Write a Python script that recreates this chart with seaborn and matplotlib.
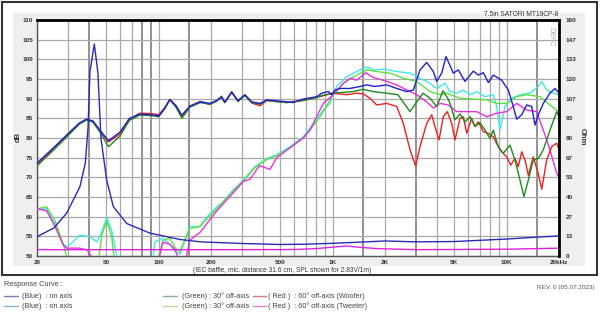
import matplotlib
matplotlib.use("Agg")
import matplotlib.pyplot as plt
import numpy as np
import pandas as pd
import seaborn as sns
from matplotlib.patches import Rectangle
from matplotlib.lines import Line2D
from matplotlib.ticker import NullLocator

sns.set_style("white")
plt.rcParams['font.family'] = ['Liberation Sans', 'DejaVu Sans']

# ---------------- data (freq Hz, value) ----------------
woofer_on_axis = [(20,73.6),(25,77.6),(30,81.0),(35,83.8),(38.6,84.8),(42,84.3),(46,82.0),(51.5,79.3),(60,81.5),(68,85.0),(78,86.1),(91.5,85.9),(100,85.6),(108,87.5),(116,89.8),(126,88.2),(136,85.8),(151,88.1),(173,89.2),(197,88.8),(215,89.5),(230,90.3),(240,89.1),(263,91.6),(286,89.5),(313,91.0),(343,89.2),(383,88.8),(418,89.7),(467,89.5),(545,89.2),(594,89.0),(676,89.9),(810,90.5),(866,91.4),(944,91.8),(990,91.0),(1032,92.2),(1102,92.6),(1259,92.6),(1436,93.1),(1570,93.5),(1753,93.1),(2047,93.5),(2336,92.6),(2667,91.8),(2911,92.2),(3178,97.3),(3474,99.2),(3794,96.9),(3964,94.4),(4236,96.5),(4486,100.7),(4935,96.5),(5275,97.3),(5766,94.4),(6436,97.0),(6879,96.0),(7350,96.6),(7855,94.1),(8382,96.0),(9370,94.7),(10230,92.2),(10920,88.0),(11430,84.8),(12210,85.9),(13040,88.4),(13930,88.0),(14560,83.3),(15200,85.9),(16250,88.8),(17750,91.4),(18970,92.6),(20000,91.4)]

woofer_30 = [(20,72.9),(25,77.0),(30,80.5),(35,83.5),(38.6,84.6),(42,84.0),(46,81.5),(51.5,77.8),(60,80.5),(68,84.5),(78,85.8),(91.5,85.7),(100,85.4),(108,87.3),(116,89.7),(126,87.8),(136,85.0),(151,87.8),(173,89.0),(197,88.6),(215,89.3),(230,90.6),(240,89.0),(263,91.7),(286,89.3),(313,90.8),(343,89.0),(383,88.6),(418,89.6),(467,89.3),(545,89.0),(594,89.2),(676,89.5),(810,90.3),(866,90.8),(1005,91.4),(1310,91.8),(1495,92.4),(1707,91.8),(2047,91.4),(2375,91.0),(2537,89.2),(2785,86.7),(3043,89.2),(3306,91.4),(3629,90.1),(3964,88.0),(4309,92.0),(4602,90.0),(4730,88.8),(5049,84.6),(5396,86.1),(5766,84.1),(6164,85.4),(6580,82.9),(7030,83.9),(7514,82.0),(8024,79.9),(8382,82.0),(8954,77.8),(9570,76.1),(10450,78.2),(11170,74.4),(11940,69.3),(12580,65.1),(13330,69.3),(14230,74.4),(15200,74.8),(16250,77.0),(17750,82.0),(19400,86.7),(20000,85.4)]

woofer_60 = [(20,73.3),(25,77.4),(30,80.8),(35,83.7),(38.6,84.7),(42,84.2),(46,81.8),(51.5,79.0),(60,81.0),(68,84.8),(78,86.3),(91.5,86.2),(100,85.9),(108,87.6),(116,89.8),(126,88.0),(136,85.5),(151,88.0),(173,89.3),(197,88.5),(215,89.5),(230,90.6),(240,89.0),(263,91.8),(286,89.3),(313,90.9),(343,88.9),(383,88.2),(418,89.5),(467,89.3),(545,89.0),(594,89.3),(676,89.6),(810,90.3),(1005,91.4),(1205,91.0),(1375,91.4),(1500,91.2),(1640,90.1),(1791,88.4),(2047,88.8),(2336,88.0),(2549,83.7),(2785,77.0),(3000,72.9),(3178,77.8),(3474,83.7),(3710,85.9),(3875,82.9),(4086,79.5),(4327,85.4),(4558,86.7),(4836,83.7),(5049,79.5),(5396,85.0),(5636,85.4),(5901,81.2),(6298,85.0),(6580,82.9),(6879,84.1),(7350,81.6),(7855,81.2),(8382,80.3),(8954,77.8),(9370,76.5),(10010,75.2),(10550,73.1),(11170,74.8),(11670,72.7),(12210,76.5),(12760,74.4),(13330,70.5),(14230,75.2),(15090,71.4),(15920,67.0),(16990,74.4),(18160,77.8),(19400,78.7),(20000,77.0)]

tweeter_on_axis = [(20,62.0),(22.7,62.0),(25.4,58.0),(28.3,53.0),(29.6,52.4),(32,53.5),(35.3,55.3),(40.3,54.9),(44.1,53.6),(47,56.0),(50.3,59.8),(53.7,56.6),(57.4,50.0),(60,45.0),(90,45.0),(95.3,53.6),(106,54.5),(116,53.0),(125,51.0),(132.7,50.5),(151.5,57.5),(173,57.5),(190,60.0),(216,62.5),(235,63.8),(268,66.8),(307,69.3),(358,72.7),(418,74.8),(477,75.7),(569,77.8),(678,80.3),(741,82.5),(884,87.1),(966,88.8),(988,90.5),(1055,93.1),(1205,95.6),(1375,96.9),(1500,97.7),(1604,98.0),(1714,97.3),(1955,97.5),(2336,96.9),(2785,96.5),(3178,95.2),(3629,93.9),(3964,92.6),(4425,93.9),(4730,91.8),(5165,91.4),(5636,92.2),(6164,91.0),(6731,91.8),(7514,90.5),(8382,91.0),(8770,88.0),(9160,82.0),(9790,88.0),(10690,90.1),(11940,91.0),(13620,91.4),(15200,93.1),(15920,94.4),(16990,92.2),(18540,91.4),(20000,91.0)]

tweeter_30 = [(20,62.0),(22.7,62.5),(25.4,59.0),(28.3,53.0),(30,49.0),(33,45.0),(44,45.0),(47,55.0),(50.3,59.0),(53.7,55.0),(56,48.0),(60,45.0),(95,45.0),(100,50.0),(106,54.0),(116,54.5),(125,52.0),(132,51.0),(151,57.0),(173,57.5),(216,62.0),(268,66.5),(307,69.0),(358,72.5),(418,74.5),(477,75.5),(569,77.5),(678,80.0),(741,82.0),(846,85.4),(1009,91.0),(1151,93.9),(1375,96.0),(1570,97.3),(1791,96.9),(2138,96.5),(2549,95.2),(3043,94.4),(3629,91.8),(4140,91.0),(4522,91.4),(5396,90.1),(6436,89.9),(7680,89.7),(8770,88.8),(10010,88.8),(11430,90.5),(13040,91.0),(15560,90.5),(17750,88.4),(19400,87.1),(20000,86.7)]

tweeter_60 = [(20,62.0),(22.7,61.5),(25.4,57.5),(28.3,52.8),(29.6,52.0),(35,52.0),(39,51.5),(42,49.0),(45,45.0),(95,45.0),(100,49.0),(106,53.5),(116,53.0),(125,51.5),(132,48.0),(140,47.0),(151,54.0),(173,56.0),(216,61.5),(268,66.0),(307,69.0),(335,69.5),(380,73.0),(437,72.0),(477,75.0),(569,77.5),(678,80.0),(741,82.0),(884,88.8),(1009,91.0),(1151,93.9),(1259,95.2),(1375,94.7),(1548,96.6),(1714,95.4),(2047,94.4),(2336,93.5),(2667,92.2),(3043,91.0),(3474,89.2),(3794,87.6),(4140,88.8),(4623,88.4),(5165,86.7),(5901,86.7),(6731,86.7),(7680,85.4),(8770,86.3),(10010,86.7),(11430,88.8),(13040,87.1),(14890,86.7),(16250,82.0),(17750,77.0),(19400,71.0),(20000,70.0)]

# impedance (ohm)
woofer_impedance = [(20,13.1),(25,19.0),(29.6,29.0),(35.3,47.0),(37.9,63.0),(39.3,87.0),(40.3,125.0),(42.7,143.7),(44.8,124.0),(46.6,80.0),(50.3,51.5),(54.9,33.5),(65.6,22.0),(89.2,15.5),(132.7,11.2),(173,9.6),(300,8.5),(500,7.8),(700,8.0),(1000,8.6),(1500,9.5),(2000,10.2),(3000,9.6),(5000,9.8),(10000,11.5),(15000,12.8),(20000,13.6)]
tweeter_impedance = [(20,4.3),(300,4.3),(600,4.4),(800,5.0),(1000,6.0),(1200,6.8),(1400,6.0),(1800,5.0),(3000,4.3),(10000,4.6),(20000,5.3)]

x_ticks = [20, 50, 100, 200, 500, 1000, 2000, 5000, 10000, 20000]
x_tick_labels = ["20", "50", "100", "200", "500", "1K", "2K", "5K", "10K", "20kHz"]
db_ticks = [50, 55, 60, 65, 70, 75, 80, 85, 90, 95, 100, 105, 110]
ohm_tick_labels = ["0", "13", "27", "40", "53", "67", "80", "93", "107", "120", "133", "147", "160"]

W, H = 600, 314
def fx(x): return x / W
def fy(y): return 1 - y / H

fig = plt.figure(figsize=(6, 3.14), dpi=100)
fig.patches.append(Rectangle((fx(2), fy(275)), 595 / W, 273 / H, transform=fig.transFigure,
                             facecolor='white', edgecolor='#333333', lw=1.5, zorder=-2))
fig.patches.append(Rectangle((fx(13), fy(266)), 572 / W, 253 / H, transform=fig.transFigure,
                             facecolor='#efefef', edgecolor='none', zorder=-1))

ax = fig.add_axes([fx(37), fy(256), 522 / W, 236 / H])
ax.set_zorder(5)
ax.set_facecolor('white')
ax.set_xscale('log')

# grid
grid_freqs = [20, 30, 40, 50, 60, 70, 80, 90, 100, 150, 200, 300, 400, 500, 600, 700, 800, 900,
              1000, 1500, 2000, 3000, 4000, 5000, 6000, 7000, 8000, 9000, 10000, 15000, 20000]
dark_freqs = [40, 80, 90, 150, 1500, 3000, 15000]
for f in grid_freqs:
    dark = f in dark_freqs
    ax.axvline(f, color='#888888' if dark else '#a8a8a8', lw=1.3 if dark else 0.9, zorder=1)
for d in db_ticks:
    ax.axhline(d, color='#a8a8a8', lw=0.9, zorder=1)

def to_df(pairs):
    return pd.DataFrame(pairs, columns=['freq', 'val'])

ax2 = ax.twinx()
ax2.set_zorder(6)
ax2.patch.set_visible(False)

imp_series = [(woofer_impedance, '#2a2ab8'), (tweeter_impedance, '#e020e0')]
for pairs, c in imp_series:
    sns.lineplot(data=to_df(pairs), x='freq', y='val', ax=ax2, color=c, lw=1.0,
                 estimator=None, sort=False, legend=False)

spl_series = [
    (tweeter_on_axis, '#40e8e8'),
    (tweeter_30, '#60e040'),
    (tweeter_60, '#e830e0'),
    (woofer_60, '#ee2020'),
    (woofer_30, '#208a20'),
    (woofer_on_axis, '#2020d0'),
]
for pairs, c in spl_series:
    sns.lineplot(data=to_df(pairs), x='freq', y='val', ax=ax, color=c, lw=1.0,
                 estimator=None, sort=False, legend=False, zorder=3)

ax.set_xlim(20, 20000)
ax.set_ylim(50, 110)
ax2.set_ylim(0, 160)
ax2.set_xlim(20, 20000)

ax.set_xticks(x_ticks)
ax.set_xticklabels(x_tick_labels)
ax.xaxis.set_minor_locator(NullLocator())
ax.set_yticks(db_ticks)
ax.set_yticklabels([str(d) for d in db_ticks])
ax.tick_params(length=0, labelsize=4.6, pad=3, colors='#333333')
for lab in ax.get_xticklabels() + ax.get_yticklabels():
    lab.set_fontweight('bold')
ax.set_xlabel('')
ax.set_ylabel('')

ax2.set_yticks(np.linspace(0, 160, 13))
ax2.set_yticklabels(ohm_tick_labels)
ax2.tick_params(length=0, labelsize=4.6, pad=5, colors='#333333')
for lab in ax2.get_yticklabels():
    lab.set_fontweight('bold')
ax2.set_ylabel('')
ax2.set_xlabel('')

for a in (ax, ax2):
    for s in a.spines.values():
        s.set_visible(False)
ax.spines['left'].set_visible(True)
ax.spines['left'].set_color('#555555')
ax.spines['left'].set_linewidth(1.0)
ax.spines['bottom'].set_visible(True)
ax.spines['bottom'].set_color('#555555')
ax.spines['bottom'].set_linewidth(1.0)
ax2.spines['top'].set_visible(True)
ax2.spines['top'].set_color('black')
ax2.spines['top'].set_linewidth(2.0)
ax2.spines['right'].set_visible(True)
ax2.spines['right'].set_color('black')
ax2.spines['right'].set_linewidth(2.0)

# texts
fig.text(fx(18), fy(137), 'dB', rotation=90, ha='center', va='center', fontsize=5.5,
         fontweight='bold', color='#333333')
fig.text(fx(582), fy(137), 'Ohm', rotation=270, ha='center', va='center', fontsize=5.5,
         fontweight='bold', color='#333333')
fig.text(fx(558), fy(15), '7.5in SATORI MT19CP-8', ha='right', va='center', fontsize=4.8,
         color='#333333')
ax.text(0.985, 0.93, 'DBFC', rotation=270, ha='center', va='center', fontsize=5,
        color='#b0b0b0', transform=ax.transAxes, zorder=2)

note = '(IEC baffle, mic. distance 31.6 cm, SPL shown for 2.83V/1m)'
fig.text(fx(193), fy(270), note, ha='left', va='center', fontsize=4.8, color='#333333')
fig.lines.append(Line2D([fx(193), fx(403)], [fy(273.5), fy(273.5)], transform=fig.transFigure,
                        color='#333333', lw=0.6))

fig.text(fx(4), fy(285), 'Response Curve :', ha='left', va='center', fontsize=5.3, color='#444444')
fig.text(fx(595), fy(287), 'REV. 0 (05.07.2023)', ha='right', va='center', fontsize=4.6,
         color='#555555')

legend_rows = [296, 306]
legend_cols = [(4, 18, 22), (163, 177, 182), (253, 266, 268)]
legend_labels = [["(Blue)  : on axis", "(Green) : 30° off-axis", "( Red )  : 60° off-axis (Woofer)"],
                 ["(Blue)  : on axis", "(Green) : 30° off-axis", "( Red )  : 60° off-axis (Tweeter)"]]
legend_colors = [['#7b7bb8', '#8aae8a', '#e07a7a'],
                 ['#80b4e0', '#c8d890', '#e080c8']]
for r, yy in enumerate(legend_rows):
    for c, (x0, x1, xt) in enumerate(legend_cols):
        fig.lines.append(Line2D([fx(x0), fx(x1)], [fy(yy), fy(yy)], transform=fig.transFigure,
                                color=legend_colors[r][c], lw=1.0))
        fig.text(fx(xt), fy(yy), legend_labels[r][c], ha='left', va='center', fontsize=5.2,
                 color='#444444')

fig.savefig('out.png', dpi=100)
